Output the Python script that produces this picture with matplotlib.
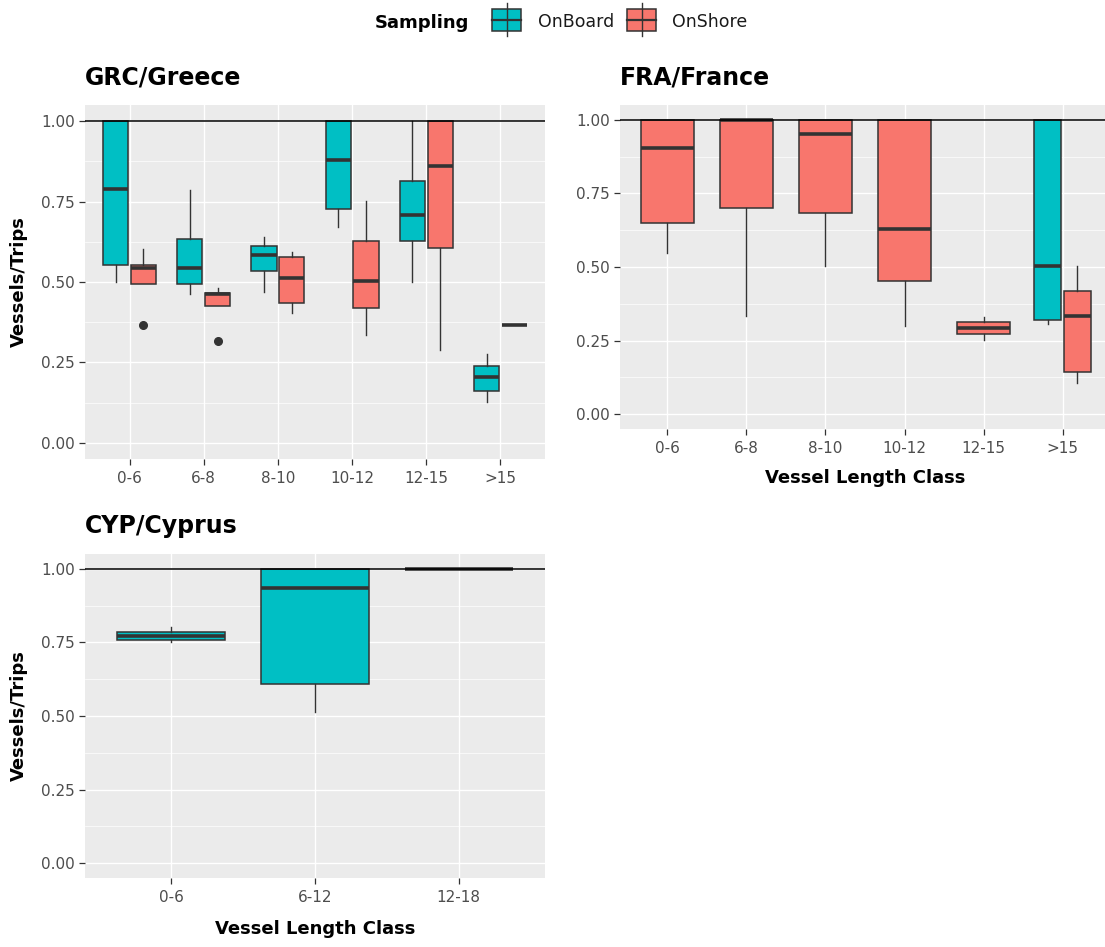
import matplotlib

matplotlib.use("Agg")
import matplotlib.pyplot as plt
from matplotlib.lines import Line2D
from matplotlib.patches import Rectangle

W, H = 1105, 947

ONBOARD = "#00BFC4"
ONSHORE = "#F8766D"
EDGE = "#333333"
PANEL_BG = "#EBEBEB"
TICK_TXT = "#4D4D4D"

# each box: (whisker low, q1, median, q3, whisker high)
GRC_CLASSES = ["0-6", "6-8", "8-10", "10-12", "12-15", ">15"]
GRC_ONBOARD = [
    (0.500, 0.552, 0.790, 1.000, 1.000),
    (0.464, 0.493, 0.545, 0.635, 0.785),
    (0.470, 0.535, 0.583, 0.611, 0.640),
    (0.672, 0.728, 0.880, 1.000, 1.000),
    (0.500, 0.626, 0.709, 0.814, 1.000),
    (0.128, 0.162, 0.206, 0.240, 0.276),
]
GRC_ONSHORE = [
    (0.493, 0.493, 0.542, 0.553, 0.602),
    (0.424, 0.424, 0.464, 0.467, 0.480),
    (0.405, 0.434, 0.513, 0.579, 0.592),
    (0.336, 0.419, 0.502, 0.628, 0.752),
    (0.289, 0.607, 0.859, 1.000, 1.000),
    (0.367, 0.367, 0.367, 0.367, 0.367),
]
GRC_ONSHORE_OUTLIERS = [[0.366], [0.317], [], [], [], []]

FRA_CLASSES = ["0-6", "6-8", "8-10", "10-12", "12-15", ">15"]
FRA_ONBOARD = [None, None, None, None, None,
               (0.307, 0.319, 0.503, 1.000, 1.000)]
FRA_ONSHORE = [
    (0.548, 0.650, 0.904, 1.000, 1.000),
    (0.333, 0.700, 1.000, 1.000, 1.000),
    (0.503, 0.685, 0.950, 1.000, 1.000),
    (0.298, 0.452, 0.629, 1.000, 1.000),
    (0.253, 0.271, 0.294, 0.313, 0.331),
    (0.107, 0.145, 0.333, 0.418, 0.503),
]

CYP_CLASSES = ["0-6", "6-12", "12-18"]
CYP_ONBOARD = [
    (0.751, 0.758, 0.772, 0.785, 0.802),
    (0.515, 0.610, 0.933, 1.000, 1.000),
    (1.000, 1.000, 1.000, 1.000, 1.000),
]
CYP_ONSHORE = [None, None, None]

Y_TICKS = [0.0, 0.25, 0.5, 0.75, 1.0]
Y_TICK_LABELS = ["0.00", "0.25", "0.50", "0.75", "1.00"]


def px_axes(fig, left, top, right, bottom):
    return fig.add_axes([left / W, 1 - bottom / H,
                         (right - left) / W, (bottom - top) / H])


def draw_box(ax, stats, pos, width, color, fliers):
    lo, q1, med, q3, hi = stats
    ax.bxp(
        [dict(whislo=lo, q1=q1, med=med, q3=q3, whishi=hi, fliers=fliers)],
        positions=[pos],
        widths=[width],
        patch_artist=True,
        showcaps=False,
        manage_ticks=False,
        boxprops=dict(facecolor=color, edgecolor=EDGE, linewidth=1.1),
        medianprops=dict(color=EDGE, linewidth=2.6, solid_capstyle="butt"),
        whiskerprops=dict(color=EDGE, linewidth=1.0),
        flierprops=dict(marker="o", markerfacecolor=EDGE,
                        markeredgecolor=EDGE, markersize=5.5),
    )


def draw_panel(ax, title, classes, onboard, onshore, single_width,
               outliers=None):
    n = len(classes)
    if outliers is None:
        outliers = [[] for _ in classes]

    for i in range(n):
        present = []
        if onboard[i] is not None:
            present.append((onboard[i], ONBOARD, []))
        if onshore[i] is not None:
            present.append((onshore[i], ONSHORE, outliers[i]))

        if len(present) == 2:
            offsets, width = [-0.1875, 0.1875], 0.3375
        else:
            offsets, width = [0.0], single_width

        for (stats, color, fl), off in zip(present, offsets):
            draw_box(ax, stats, i + 1 + off, width, color, fl)

    ax.axhline(1.0, color="black", linewidth=1.1, zorder=5)

    ax.set_facecolor(PANEL_BG)
    ax.set_xlim(0.4, n + 0.6)
    ax.set_ylim(-0.05, 1.05)
    ax.set_xticks(range(1, n + 1))
    ax.set_xticklabels(classes)
    ax.set_yticks(Y_TICKS)
    ax.set_yticklabels(Y_TICK_LABELS)
    ax.set_yticks([0.125, 0.375, 0.625, 0.875], minor=True)
    ax.grid(which="major", color="white", linewidth=1.0)
    ax.grid(which="minor", axis="y", color="white", linewidth=0.5)
    ax.set_axisbelow(True)
    for spine in ax.spines.values():
        spine.set_visible(False)
    ax.tick_params(which="major", length=4.3, width=0.9, color=EDGE,
                   labelcolor=TICK_TXT, labelsize=11)
    ax.tick_params(axis="x", pad=4)
    ax.tick_params(axis="y", pad=3)
    ax.tick_params(which="minor", length=0)

    ax.set_title(title, loc="left", fontsize=17, fontweight="bold", pad=15)


def main() -> None:
    fig = plt.figure(figsize=(W / 100, H / 100), dpi=100)
    fig.patch.set_facecolor("white")

    ax_grc = px_axes(fig, 85, 105, 545, 459)
    ax_fra = px_axes(fig, 620, 105, 1110, 429)
    ax_cyp = px_axes(fig, 85, 554, 545, 878)

    draw_panel(ax_grc, "GRC/Greece", GRC_CLASSES, GRC_ONBOARD, GRC_ONSHORE,
               0.675, GRC_ONSHORE_OUTLIERS)
    draw_panel(ax_fra, "FRA/France", FRA_CLASSES, FRA_ONBOARD, FRA_ONSHORE,
               0.675)
    draw_panel(ax_cyp, "CYP/Cyprus", CYP_CLASSES, CYP_ONBOARD, CYP_ONSHORE,
               0.75)

    # axis titles
    for y_mid in (282, 716):
        fig.text(19 / W, 1 - y_mid / H, "Vessels/Trips", rotation=90,
                 ha="center", va="center", fontsize=13, fontweight="bold")
    fig.text(865 / W, 1 - 483 / H, "Vessel Length Class", ha="center",
             va="baseline", fontsize=13, fontweight="bold")
    fig.text(315 / W, 1 - 934 / H, "Vessel Length Class", ha="center",
             va="baseline", fontsize=13, fontweight="bold")

    # legend on top
    fig.text(375 / W, 1 - 28 / H, "Sampling", ha="left", va="baseline",
             fontsize=13, fontweight="bold")
    for x0, color, label, x_txt in [(492, ONBOARD, "OnBoard", 538),
                                    (627, ONSHORE, "OnShore", 672)]:
        kw = 29
        xc = x0 + kw / 2
        fig.add_artist(Line2D([xc / W, xc / W], [1 - 3 / H, 1 - 36 / H],
                              transform=fig.transFigure, color=EDGE,
                              linewidth=1.0))
        fig.add_artist(Rectangle((x0 / W, 1 - 31 / H), kw / W, 22 / H,
                                 transform=fig.transFigure, facecolor=color,
                                 edgecolor=EDGE, linewidth=1.1))
        fig.add_artist(Line2D([x0 / W, (x0 + kw) / W], [1 - 20 / H, 1 - 20 / H],
                              transform=fig.transFigure, color=EDGE,
                              linewidth=1.6))
        fig.text(x_txt / W, 1 - 27 / H, label, ha="left", va="baseline",
                 fontsize=12.5, color="#1A1A1A")

    fig.savefig("out.png", dpi=100)
    plt.close(fig)


if __name__ == "__main__":
    main()
